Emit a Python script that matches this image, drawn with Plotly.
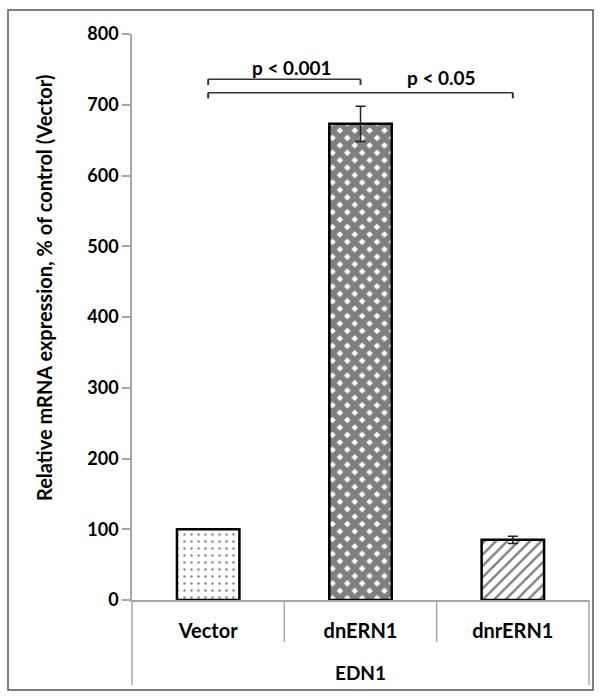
import plotly.graph_objects as go

# ---- data ----
categories = ["Vector", "dnERN1", "dnrERN1"]
group_label = "EDN1"
values = [100, 673, 85]
errors = [0, 25, 5]
y_ticks = [0, 100, 200, 300, 400, 500, 600, 700, 800]
brackets = [  # (from idx, to idx, y level)
    (0, 1, 736),
    (0, 2, 717),
]
p_labels = ["p < 0.001", "p < 0.05"]
p_label_pos = [(0.55, 752), (1.53, 738)]

W, H = 602, 696
ML, MR, MT, MB = 132, 13, 34, 96
pw, ph = W - ML - MR, H - MT - MB

def px_x(p):  # pixel -> paper x
    return (p - ML) / pw

def px_y(p):  # pixel -> paper y
    return (H - MB - p) / ph

FONT = "Lato"
GRAY = "#a6a6a6"

patterns = [
    dict(shape=".", fgcolor="#111111", bgcolor="white", size=7, solidity=0.1),
    dict(shape="x", fgcolor="black", bgcolor="white", size=10.5, solidity=0.8),
    dict(shape="/", fgcolor="black", bgcolor="white", size=8, solidity=0.3),
]

fig = go.Figure()
for i, (c, v, e) in enumerate(zip(categories, values, errors)):
    fig.add_trace(go.Bar(
        x=[c], y=[v],
        width=0.41,
        marker=dict(color="white", pattern=patterns[i],
                    line=dict(color="black", width=2.5)),
        error_y=dict(type="data", array=[e], visible=e > 0,
                     color="#222222", thickness=1.5, width=5),
        showlegend=False,
    ))

shapes = []
# outer frame
shapes.append(dict(type="rect", xref="paper", yref="paper",
                   x0=px_x(8), x1=px_x(593), y0=px_y(690), y1=px_y(10),
                   line=dict(color="#555555", width=1.5), layer="below"))
# category separators below axis
n = len(categories)
for k in range(n + 1):
    bottom = px_y(685) if k in (0, n) else px_y(642)
    shapes.append(dict(type="line", xref="paper", yref="paper",
                       x0=k / n, x1=k / n, y0=0, y1=bottom,
                       line=dict(color=GRAY, width=1.5)))

annotations = []
for a, b, yl in brackets:
    shapes.append(dict(type="line", xref="x", yref="y", x0=a, x1=b, y0=yl, y1=yl,
                       line=dict(color="#333333", width=1.5)))
    for xx in (a, b):
        shapes.append(dict(type="line", xref="x", yref="y", x0=xx, x1=xx,
                           y0=yl, y1=yl - 8, line=dict(color="#333333", width=2)))

for lab, (lx, ly) in zip(p_labels, p_label_pos):
    annotations.append(dict(text=lab, x=lx, y=ly, xref="x", yref="y", showarrow=False,
                            font=dict(family=FONT, size=19, color="black", weight="bold")))
annotations.append(dict(text=group_label, x=0.5, y=px_y(672), xref="paper", yref="paper",
                        xanchor="center", yanchor="middle", showarrow=False,
                        font=dict(family=FONT, size=19, color="black", weight="bold")))
annotations.append(dict(text="Relative mRNA expression, % of control (Vector)",
                        x=px_x(44), y=px_y(288), xref="paper", yref="paper",
                        xanchor="center", yanchor="middle",
                        textangle=-90, showarrow=False,
                        font=dict(family=FONT, size=20, color="black", weight="bold")))

fig.update_layout(
    width=W, height=H,
    margin=dict(l=ML, r=MR, t=MT, b=MB),
    paper_bgcolor="white", plot_bgcolor="white",
    bargap=0.59,
    shapes=shapes, annotations=annotations,
    xaxis=dict(type="category", categoryorder="array", categoryarray=categories,
               showline=True, linecolor=GRAY, linewidth=1.5, showgrid=False,
               ticks="", ticklabelstandoff=12,
               tickfont=dict(family=FONT, size=20, color="black", weight="bold")),
    yaxis=dict(range=[0, 800], tickvals=y_ticks, showline=True, linecolor=GRAY,
               linewidth=1.5, showgrid=False, zeroline=False,
               ticks="outside", ticklen=8, tickcolor=GRAY, tickwidth=1.5,
               tickfont=dict(family=FONT, size=18, color="black", weight="bold")),
)

fig.write_html("out.html")
